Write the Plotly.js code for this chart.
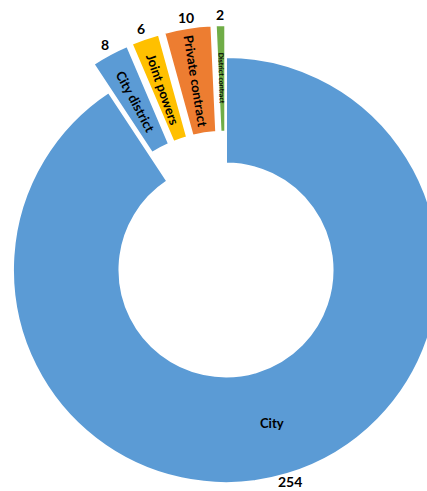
<!DOCTYPE html>
<html>
<head>
<meta charset="utf-8">
<script src="https://cdn.plot.ly/plotly-3.0.1.min.js"></script>
<style>
html,body{margin:0;padding:0;width:427px;height:491px;overflow:hidden;background:#fff;}
#chart{position:absolute;left:-19px;top:0;width:490px;height:515px;}
</style>
</head>
<body>
<div id="chart"></div>
<script>
const categories = ['City', 'City district', 'Joint powers', 'Private contract', 'District contract'];
const values = [254, 8, 6, 10, 2];

// styles (kept apart from the data)
const colors = ['#5B9BD5', '#5B9BD5', '#FFC000', '#ED7D31', '#70AD47'];
const pulls = [0, 0.15, 0.15, 0.15, 0.15];
const labelSizes = [13, 13, 13, 13, 7];
const valueSize = 14;
const valueGap = [8, 11, 11, 11, 11];
const fontFamily = 'Lato, "Open Sans", sans-serif';

const W = 490, H = 515, M = {l: 0, r: 0, t: 25, b: 0};
const plotW = W - M.l - M.r, plotH = H - M.t - M.b;
const box = Math.min(plotW, plotH);
const R = box / (2 + 2 * Math.max(...pulls)); // same radius rule Plotly uses
const hole = 0.5;

const total = values.reduce((a, b) => a + b, 0);
let cum = 0;
const annotations = [];
values.forEach((v, i) => {
  const mid = 360 * (cum + v / 2) / total; // clockwise from 12 o'clock
  cum += v;
  const rad = mid * Math.PI / 180;
  const s = Math.sin(rad), c = Math.cos(rad);
  const shift = pulls[i] * R;
  const toPaper = (rho) => ({
    x: 0.5 + rho * s / plotW,
    y: 0.5 + rho * c / plotH
  });
  // category label
  const lp = toPaper(shift + R * (1 + hole) / 2);
  let ang = ((90 + mid) % 360 + 360) % 360; if (ang > 180) ang -= 360;
  annotations.push({
    xref: 'paper', yref: 'paper', x: lp.x, y: lp.y, showarrow: false,
    xanchor: 'center', yanchor: 'middle',
    text: categories[i], textangle: i === 0 ? 0 : ang,
    font: {family: fontFamily, weight: 700, size: labelSizes[i], color: '#000'}
  });
  // value label
  const vp = toPaper(shift + R + valueGap[i]);
  annotations.push({
    xref: 'paper', yref: 'paper', x: vp.x, y: vp.y, showarrow: false,
    xanchor: 'center', yanchor: 'middle',
    text: String(v),
    font: {family: fontFamily, weight: 700, size: valueSize, color: '#000'}
  });
});

const trace = {
  type: 'pie', labels: categories, values: values, hole: hole, sort: false,
  direction: 'clockwise', rotation: 0, pull: pulls, hoverinfo: 'none',
  showlegend: false, textinfo: 'none', domain: {x: [0, 1], y: [0, 1]},
  marker: {colors: colors, line: {color: '#fff', width: 2}}
};

Plotly.newPlot('chart', [trace], {
  width: W, height: H, margin: M,
  paper_bgcolor: 'rgba(0,0,0,0)', plot_bgcolor: 'rgba(0,0,0,0)',
  showlegend: false, annotations: annotations
}, {staticPlot: true, displayModeBar: false});
</script>
</body>
</html>
